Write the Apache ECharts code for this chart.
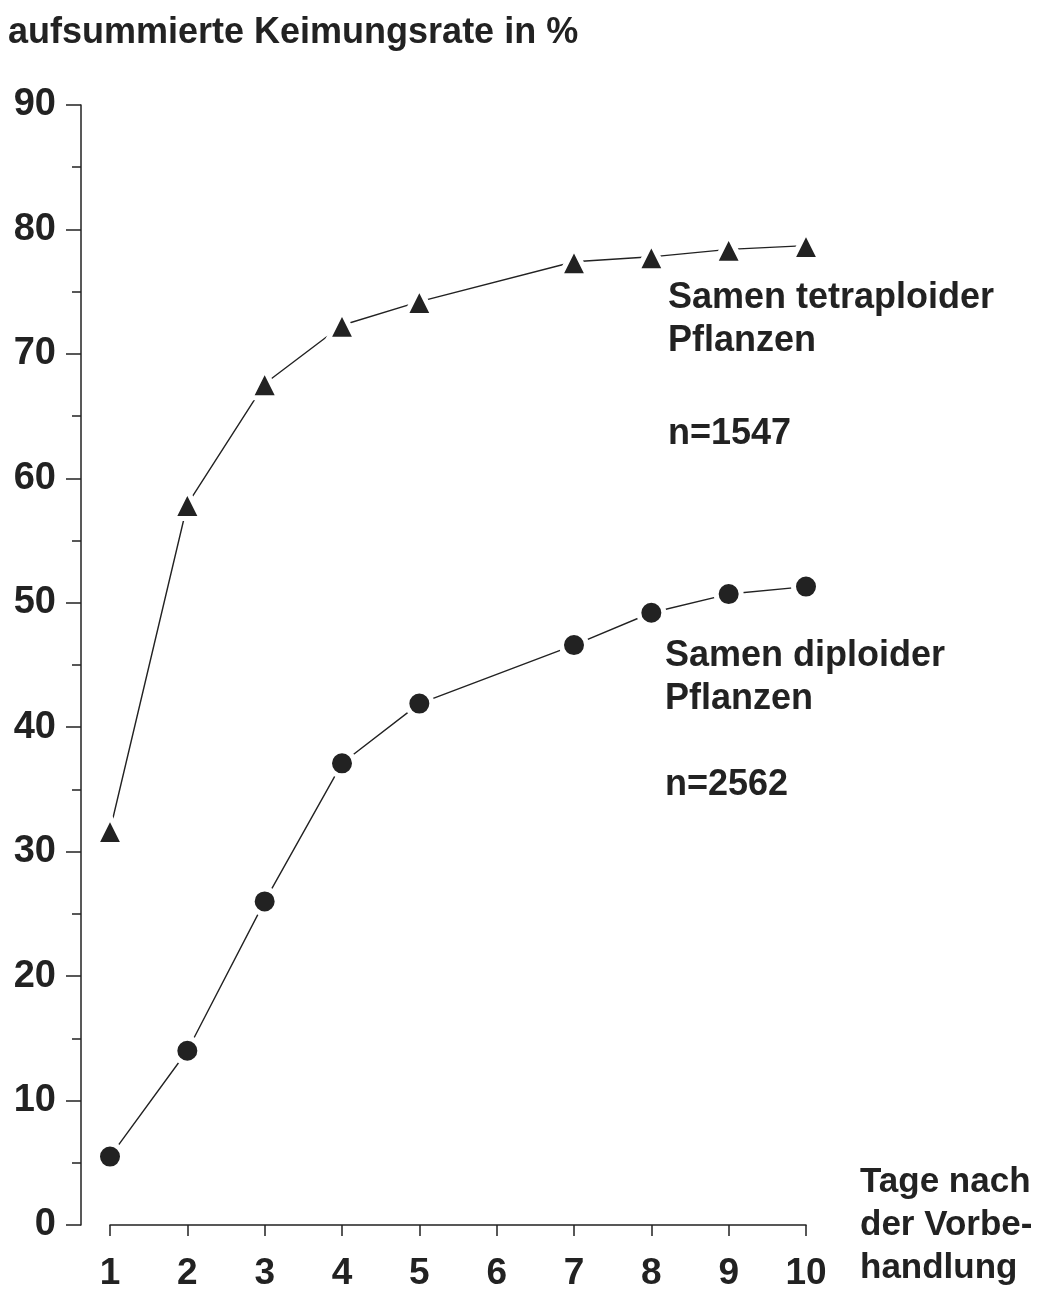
<!DOCTYPE html>
<html>
<head>
<meta charset="utf-8">
<script src="https://cdn.jsdelivr.net/npm/echarts@6/dist/echarts.min.js"></script>
<style>
  html, body { margin: 0; padding: 0; background: #fff; }
  #chart { width: 1050px; height: 1296px; }
</style>
</head>
<body>
<div id="chart"></div>
<script>
// Tage nach der Vorbehandlung (Tag 6 fehlt)
const days = [1, 2, 3, 4, 5, 7, 8, 9, 10];
// aufsummierte Keimungsrate in %
const tetraploid = [31.7, 57.9, 67.6, 72.3, 74.2, 77.4, 77.8, 78.4, 78.7];
const diploid = [5.5, 14.0, 26.0, 37.1, 41.9, 46.6, 49.2, 50.7, 51.3];

const font = "'Liberation Sans', Arial, sans-serif";
const ink = "#222";

const myChart = echarts.init(document.getElementById("chart"));

function pairs(ys) {
  return days.map((d, i) => [d, ys[i]]);
}

const option = {
  animation: false,
  backgroundColor: "#fff",
  grid: {
    left: 110,
    right: 244,
    top: 105,
    bottom: 71
  },
  xAxis: {
    type: "value",
    min: 1,
    max: 10,
    interval: 1,
    axisLine: { show: true, lineStyle: { color: ink, width: 1.5 } },
    axisTick: { show: true, inside: false, length: 11, lineStyle: { color: ink, width: 1.5 } },
    axisLabel: { fontSize: 37, fontWeight: "bold", color: ink, fontFamily: font, margin: 30 },
    splitLine: { show: false }
  },
  yAxis: {
    type: "value",
    min: 0,
    max: 90,
    interval: 10,
    offset: 29,
    axisLine: { show: true, lineStyle: { color: ink, width: 1.5 } },
    axisTick: { show: true, inside: false, length: 15, lineStyle: { color: ink, width: 1.5 } },
    minorTick: { show: true, splitNumber: 2, length: 9, lineStyle: { color: ink, width: 1.5 } },
    axisLabel: { fontSize: 38, fontWeight: "bold", color: ink, fontFamily: font, margin: 25 },
    splitLine: { show: false }
  },
  series: [
    {
      name: "Samen tetraploider Pflanzen",
      type: "line",
      data: pairs(tetraploid),
      symbol: "triangle",
      symbolSize: 28,
      lineStyle: { color: ink, width: 1.4 },
      itemStyle: { color: ink, borderColor: "#fff", borderWidth: 5 }
    },
    {
      name: "Samen diploider Pflanzen",
      type: "line",
      data: pairs(diploid),
      symbol: "circle",
      symbolSize: 25,
      lineStyle: { color: ink, width: 1.4 },
      itemStyle: { color: ink, borderColor: "#fff", borderWidth: 5 }
    }
  ],
  graphic: [
    { type: "text", left: 8, top: 15, style: { text: "aufsummierte Keimungsrate in %", fill: ink, font: "bold 36px " + font } },
    { type: "text", left: 668, top: 277, style: { text: "Samen tetraploider\nPflanzen", fill: ink, font: "bold 36px " + font, lineHeight: 43 } },
    { type: "text", left: 668, top: 416, style: { text: "n=1547", fill: ink, font: "bold 36px " + font } },
    { type: "text", left: 665, top: 635, style: { text: "Samen diploider\nPflanzen", fill: ink, font: "bold 36px " + font, lineHeight: 43 } },
    { type: "text", left: 665, top: 767, style: { text: "n=2562", fill: ink, font: "bold 36px " + font } },
    { type: "text", left: 860, top: 1161, style: { text: "Tage nach\nder Vorbe-\nhandlung", fill: ink, font: "bold 35px " + font, lineHeight: 43 } }
  ]
};

myChart.setOption(option);
</script>
</body>
</html>
